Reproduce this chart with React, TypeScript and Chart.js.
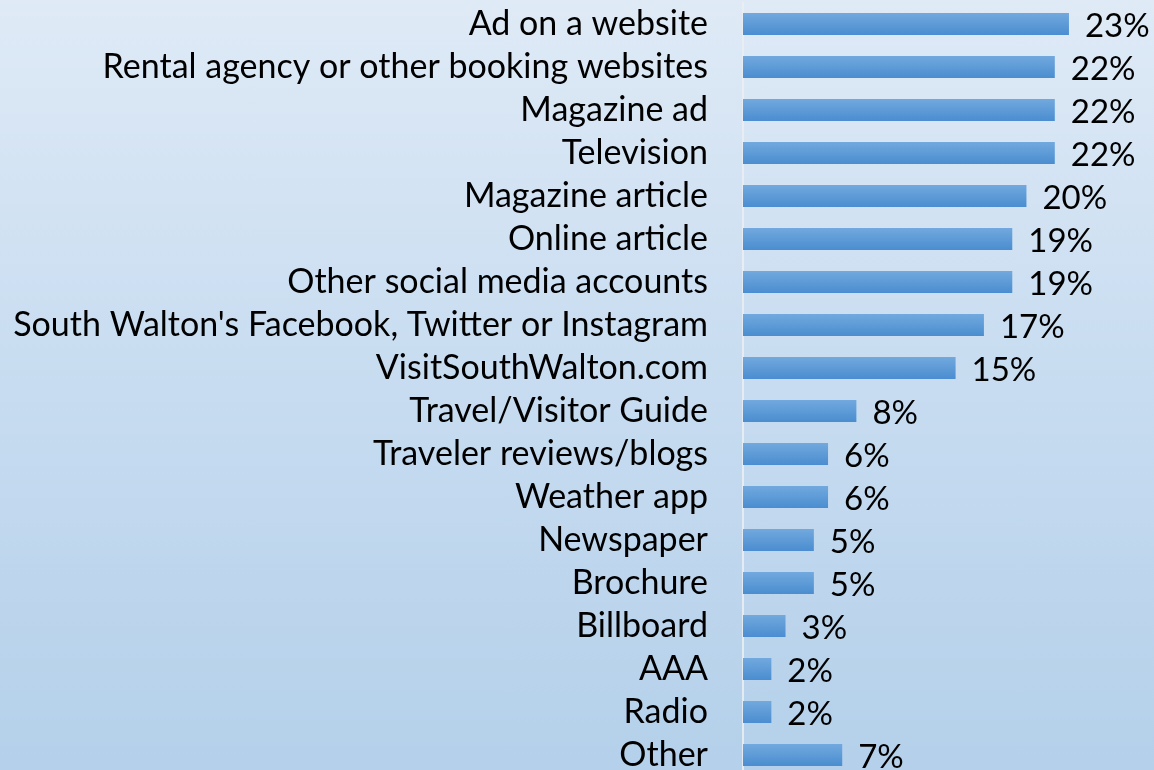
import React, { useEffect, useRef } from "react";
import { Chart, registerables } from "chart.js";

Chart.register(...registerables);

const categories = [
  "Ad on a website",
  "Rental agency or other booking websites",
  "Magazine ad",
  "Television",
  "Magazine article",
  "Online article",
  "Other social media accounts",
  "South Walton's Facebook, Twitter or Instagram",
  "VisitSouthWalton.com",
  "Travel/Visitor Guide",
  "Traveler reviews/blogs",
  "Weather app",
  "Newspaper",
  "Brochure",
  "Billboard",
  "AAA",
  "Radio",
  "Other",
];

const values = [23, 22, 22, 22, 20, 19, 19, 17, 15, 8, 6, 6, 5, 5, 3, 2, 2, 7];

const FONT = "Lato";
const TICK_SIZE = 34;
const LABEL_SIZE = 33;
const BAR_HALF = 11;

const valueLabels = {
  id: "valueLabels",
  afterDatasetsDraw(chart: any) {
    const ctx = chart.ctx;
    const meta = chart.getDatasetMeta(0);
    ctx.save();
    ctx.fillStyle = "#000";
    ctx.font = `${LABEL_SIZE}px ${FONT}`;
    ctx.textAlign = "left";
    ctx.textBaseline = "middle";
    meta.data.forEach((el: any, i: number) => {
      ctx.fillText(values[i] + "%", el.x + 16, el.y + 2);
    });
    ctx.restore();
  },
};

export default function App() {
  const ref = useRef<HTMLCanvasElement>(null);
  useEffect(() => {
    const chart = new Chart(ref.current!, {
      type: "bar",
      data: {
        labels: categories,
        datasets: [
          {
            data: values,
            backgroundColor: (c: any) => {
              const ch = c.chart;
              const ys = ch.scales && ch.scales.y;
              if (!ys || c.dataIndex === undefined) return "#5b9bd5";
              const yc = ys.getPixelForValue(c.dataIndex);
              if (!isFinite(yc)) return "#5b9bd5";
              const g = ch.ctx.createLinearGradient(0, yc - BAR_HALF, 0, yc + BAR_HALF);
              g.addColorStop(0, "#72a9de");
              g.addColorStop(1, "#4a8dd0");
              return g;
            },
            borderWidth: 0,
            barPercentage: 0.86,
            categoryPercentage: 0.6,
          },
        ],
      },
      options: {
        indexAxis: "y",
        animation: false,
        responsive: false,
        maintainAspectRatio: false,
        layout: { padding: { top: 2.5, bottom: 0.5, left: 0, right: 0 } },
        plugins: { legend: { display: false }, tooltip: { enabled: false } },
        scales: {
          x: { display: false, min: 0, max: 29 },
          y: {
            afterFit: (s: any) => {
              s.width = 743;
              s.paddingTop = 0;
              s.paddingBottom = 0;
            },
            grid: { display: false, drawTicks: false },
            border: { display: true, color: "rgba(235,238,242,0.85)", width: 2 },
            ticks: {
              padding: 35,
              color: "#000",
              font: { family: FONT, size: TICK_SIZE },
              autoSkip: false,
            },
          },
        },
      },
      plugins: [valueLabels],
    });
    return () => chart.destroy();
  }, []);
  return (
    <div
      style={{
        position: "fixed",
        left: 0,
        top: 0,
        width: 1154,
        height: 770,
        overflow: "hidden",
        background: "linear-gradient(180deg, #dfeaf6 0%, #c9ddf1 46%, #b4d0ea 100%)",
      }}
    >
      <canvas ref={ref} width={1154} height={777} style={{ display: "block" }} />
    </div>
  );
}
